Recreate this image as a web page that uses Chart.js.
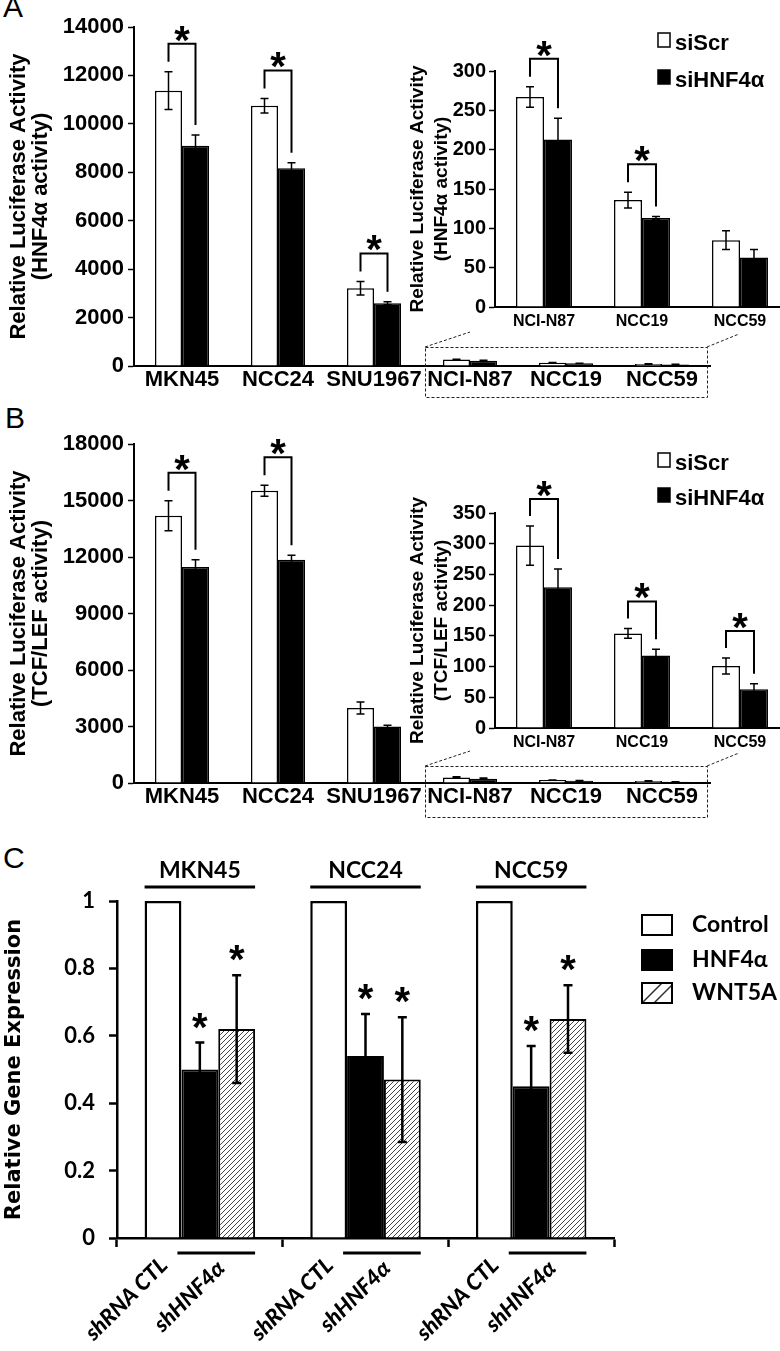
<!DOCTYPE html>
<html><head><meta charset="utf-8">
<script src="https://cdn.jsdelivr.net/npm/chart.js@4.4.0/dist/chart.umd.min.js"></script>
<style>
html,body{margin:0;padding:0;background:#fff;width:780px;height:1351px;overflow:hidden;position:relative;}
canvas{position:absolute;}
.pl{position:absolute;font-family:"Liberation Sans",Arial,sans-serif;font-size:30px;line-height:30px;color:#000;}
</style></head><body>
<div class="pl" style="left:3px;top:-8px">A</div>
<div class="pl" style="left:5px;top:403px">B</div>
<div class="pl" style="left:3px;top:843px">C</div>
<canvas id="aMain" width="780" height="410" style="left:0;top:0;width:780px;height:410px"></canvas>
<canvas id="aIns" width="420" height="340" style="left:380px;top:0;width:420px;height:340px"></canvas>
<canvas id="bMain" width="780" height="430" style="left:0;top:400px;width:780px;height:430px"></canvas>
<canvas id="bIns" width="420" height="360" style="left:380px;top:400px;width:420px;height:360px"></canvas>
<canvas id="cMain" width="780" height="521" style="left:0;top:830px;width:780px;height:521px"></canvas>
<script>
// ---------------- DATA ----------------
const mainCats = ['MKN45', 'NCC24', 'SNU1967', 'NCI-N87', 'NCC19', 'NCC59'];
const seriesNames = ['siScr', 'siHNF4α'];

// Panel A: HNF4α reporter activity
const aScr    = [11370, 10750, 3210, 267, 136, 85];
const aScrErr = [780, 300, 280, 13, 10, 12];
const aSi     = [9100, 8170, 2590, 213, 113, 63];
const aSiErr  = [440, 220, 60, 27, 2, 10];
const aSig    = [true, true, true, true, true, false];
const aTitle  = ['Relative Luciferase Activity', '(HNF4α activity)'];

// Panel B: TCF/LEF reporter activity
const bScr    = [14190, 15520, 3980, 297, 154, 101];
const bScrErr = [800, 290, 320, 32, 8, 13];
const bSi     = [11470, 11860, 3000, 229, 118, 63];
const bSiErr  = [390, 230, 60, 30, 10, 9];
const bSig    = [true, true, false, true, true, true];
const bTitle  = ['Relative Luciferase Activity', '(TCF/LEF activity)'];

// Panel C: relative gene expression
const cGroups   = ['MKN45', 'NCC24', 'NCC59'];
const cSeries   = ['Control', 'HNF4α', 'WNT5A'];
const cControl  = [1, 1, 1];
const cHNF      = [0.50, 0.54, 0.45];
const cHNFErr   = [0.08, 0.125, 0.12];
const cWNT      = [0.62, 0.47, 0.65];
const cWNTErr   = [0.16, 0.185, 0.10];
const cSubLabels = ['shRNA CTL', 'shHNF4α'];
const cTitle    = 'Relative Gene Expression';

// ---------------- HELPERS ----------------
const F  = '"Liberation Sans", Arial, Helvetica, sans-serif';
const FC = 'Lato, "Open Sans", sans-serif';
const FV = '"DejaVu Sans", Verdana, sans-serif';

function star(ctx, x, cy, font) {
  ctx.save();
  ctx.font = font; ctx.fillStyle = '#000';
  ctx.textAlign = 'center'; ctx.textBaseline = 'alphabetic';
  const m = ctx.measureText('*');
  ctx.fillText('*', x, cy + (m.actualBoundingBoxAscent - m.actualBoundingBoxDescent) / 2);
  ctx.restore();
}

function hatchPattern(step) {
  const c = document.createElement('canvas'); c.width = step; c.height = step;
  const x = c.getContext('2d');
  x.fillStyle = '#fff'; x.fillRect(0, 0, step, step);
  x.strokeStyle = '#444'; x.lineWidth = 1;
  x.beginPath();
  x.moveTo(0, step); x.lineTo(step, 0);
  x.moveTo(-1, 1); x.lineTo(1, -1);
  x.moveTo(step - 1, step + 1); x.lineTo(step + 1, step - 1);
  x.stroke();
  return x.createPattern(c, 'repeat');
}

const errorBars = {
  id: 'errorBars',
  afterDatasetsDraw(chart, args, o) {
    const ctx = chart.ctx, y = chart.scales.y;
    ctx.save(); ctx.strokeStyle = '#000'; ctx.lineWidth = o.lw;
    chart.data.datasets.forEach((ds, di) => {
      if (!ds.err) return;
      chart.getDatasetMeta(di).data.forEach((el, i) => {
        const e = ds.err[i]; if (!e) return;
        const v = ds.data[i];
        const yt = y.getPixelForValue(v + e), yb = y.getPixelForValue(v - e);
        ctx.beginPath();
        ctx.moveTo(el.x, yt); ctx.lineTo(el.x, yb);
        ctx.moveTo(el.x - o.cap, yt); ctx.lineTo(el.x + o.cap, yt);
        ctx.moveTo(el.x - o.cap, yb); ctx.lineTo(el.x + o.cap, yb);
        ctx.stroke();
      });
    });
    ctx.restore();
  }
};

const brackets = {
  id: 'brackets',
  afterDatasetsDraw(chart, args, o) {
    if (!o.sig) return;
    const ctx = chart.ctx, y = chart.scales.y, ds = chart.data.datasets;
    ctx.save(); ctx.strokeStyle = '#000'; ctx.lineWidth = o.lw;
    o.sig.forEach((s, i) => {
      if (!s) return;
      const a = chart.getDatasetMeta(0).data[i], b = chart.getDatasetMeta(1).data[i];
      const ta = y.getPixelForValue(ds[0].data[i] + ds[0].err[i]);
      const tb = y.getPixelForValue(ds[1].data[i] + ds[1].err[i]);
      const top = Math.min(ta, tb) - o.rise;
      ctx.beginPath();
      ctx.moveTo(a.x, ta - o.gap); ctx.lineTo(a.x, top); ctx.lineTo(b.x, top); ctx.lineTo(b.x, tb - o.gap);
      ctx.stroke();
      star(ctx, (a.x + b.x) / 2, top - o.starOff, o.starFont);
    });
    ctx.restore();
  }
};

const zoomBox = {
  id: 'zoomBox',
  afterDraw(chart, args, o) {
    if (o.from === undefined) return;
    const x = chart.scales.x, ca = chart.chartArea, ctx = chart.ctx;
    const half = (x.getPixelForValue(1) - x.getPixelForValue(0)) / 2;
    const L = x.getPixelForValue(o.from) - half + 3, R = ca.right - 3;
    const T = ca.bottom - o.up, B = ca.bottom + o.down;
    ctx.save(); ctx.setLineDash([3, 2]); ctx.strokeStyle = '#222'; ctx.lineWidth = 1;
    ctx.strokeRect(L + 0.5, T + 0.5, R - L, B - T);
    ctx.beginPath();
    ctx.moveTo(L, T); ctx.lineTo(L + 45, T - 15);
    ctx.moveTo(R, T); ctx.lineTo(R + 32, T - 13);
    ctx.stroke();
    ctx.restore();
  }
};

const key = {
  id: 'key',
  afterDraw(chart, args, o) {
    if (!o.ys) return;
    const ctx = chart.ctx; ctx.save();
    ctx.font = 'bold 22px ' + F; ctx.textBaseline = 'alphabetic'; ctx.textAlign = 'left';
    chart.data.datasets.forEach((ds, i) => {
      const base = o.ys[i];
      ctx.fillStyle = ds.backgroundColor; ctx.fillRect(o.x, base - 17, 12, 14);
      ctx.strokeStyle = '#000'; ctx.lineWidth = 1.5; ctx.strokeRect(o.x, base - 17, 12, 14);
      ctx.fillStyle = '#000'; ctx.fillText(ds.label, o.x + 17, base);
    });
    ctx.restore();
  }
};

const plain = v => String(v);

function barChart(id, cats, scr, scrErr, si, siErr, cfg) {
  return new Chart(document.getElementById(id), {
    type: 'bar',
    data: {
      labels: cats,
      datasets: [
        { label: seriesNames[0], data: scr, err: scrErr, backgroundColor: '#fff', borderColor: '#000',
          borderWidth: 1.5, categoryPercentage: cfg.catPct, barPercentage: 1 },
        { label: seriesNames[1], data: si, err: siErr, backgroundColor: '#000', borderColor: '#000',
          borderWidth: 1.5, categoryPercentage: cfg.catPct, barPercentage: 1 }
      ]
    },
    options: {
      responsive: false, animation: false, devicePixelRatio: 1,
      layout: { padding: { left: 0, top: cfg.top, right: cfg.right, bottom: 0 } },
      plugins: {
        legend: { display: false }, tooltip: { enabled: false },
        errorBars: { lw: 1.5, cap: 4 },
        brackets: { sig: cfg.sig, lw: 2, gap: 10, rise: cfg.rise, starOff: 10, starFont: 'bold 40px ' + F },
        zoomBox: cfg.box || {},
        key: cfg.key || {}
      },
      scales: {
        x: {
          grid: { display: true, drawOnChartArea: false, drawTicks: false, color: 'transparent' },
          border: { display: true, color: '#000', width: 2 },
          ticks: { color: '#000', font: { family: F, size: cfg.xFont, weight: 'bold' }, padding: cfg.xPad,
                   maxRotation: 0, minRotation: 0, autoSkip: false },
          afterFit: s => { s.height = cfg.xH; }
        },
        y: {
          min: 0, max: cfg.max,
          ticks: { stepSize: cfg.step, color: '#000', font: { family: F, size: cfg.yFont, weight: 'bold' }, padding: cfg.yPad,
                   callback: plain },
          grid: { drawOnChartArea: false, drawTicks: true, tickLength: 6, tickColor: '#000', tickWidth: 1.5, color: '#000' },
          border: { display: true, color: '#000', width: 2 },
          title: { display: true, text: cfg.title, color: '#000',
                   font: { family: F, size: cfg.tFont, weight: 'bold', lineHeight: cfg.tLH },
                   padding: { top: cfg.tPad, bottom: 0 } },
          afterFit: s => { s.width = cfg.yW; }
        }
      }
    },
    plugins: [errorBars, brackets, zoomBox, key]
  });
}

// ---------------- PANEL A ----------------
barChart('aMain', mainCats, aScr, aScrErr, aSi, aSiErr, {
  catPct: 0.5625, top: 27, right: 70, xH: 44, yW: 134, max: 14000, step: 2000,
  xFont: 22, xPad: 1, yFont: 22, yPad: 4, title: aTitle, tFont: 22, tLH: 1.0, tPad: 8,
  sig: aSig.map((s, i) => i < 3 && s), rise: 28, box: { from: 3, up: 19, down: 31 }
});
barChart('aIns', mainCats.slice(3), aScr.slice(3), aScrErr.slice(3), aSi.slice(3), aSiErr.slice(3), {
  catPct: 0.571, top: 71, right: 11, xH: 33, yW: 115, max: 300, step: 50,
  xFont: 16, xPad: 5, yFont: 20, yPad: 3, title: aTitle, tFont: 19, tLH: 1.26, tPad: 26,
  sig: aSig.slice(3), rise: 28, key: { x: 278, ys: [50, 87] }
});

// ---------------- PANEL B ----------------
barChart('bMain', mainCats, bScr, bScrErr, bSi, bSiErr, {
  catPct: 0.5625, top: 44, right: 70, xH: 47, yW: 134, max: 18000, step: 3000,
  xFont: 22, xPad: 1, yFont: 22, yPad: 4, title: bTitle, tFont: 22, tLH: 1.0, tPad: 8,
  sig: bSig.map((s, i) => i < 3 && s), rise: 28, box: { from: 3, up: 17, down: 34 }
});
barChart('bIns', mainCats.slice(3), bScr.slice(3), bScrErr.slice(3), bSi.slice(3), bSiErr.slice(3), {
  catPct: 0.571, top: 113, right: 11, xH: 32, yW: 115, max: 350, step: 50,
  xFont: 16, xPad: 5, yFont: 20, yPad: 3, title: bTitle, tFont: 19, tLH: 1.26, tPad: 26,
  sig: bSig.slice(3), rise: 27, key: { x: 278, ys: [70, 105] }
});

// ---------------- PANEL C ----------------
const hatch = hatchPattern(5);
const cDecor = {
  id: 'cDecor',
  afterDraw(chart) {
    const ctx = chart.ctx, ca = chart.chartArea, ds = chart.data.datasets, y = chart.scales.y;
    const m0 = chart.getDatasetMeta(0).data, m1 = chart.getDatasetMeta(1).data, m2 = chart.getDatasetMeta(2).data;
    ctx.save();
    ctx.strokeStyle = '#000'; ctx.fillStyle = '#000';
    chart.data.labels.forEach((lab, i) => {
      const c = m0[i], h = m1[i], w = m2[i];
      const left = c.x - c.width / 2, right = w.x + w.width / 2;
      ctx.font = 'bold 23px ' + FC; ctx.textAlign = 'center'; ctx.textBaseline = 'middle';
      ctx.fillText(lab, (left + right) / 2, ca.top - 30);
      ctx.lineWidth = 3;
      ctx.beginPath(); ctx.moveTo(left, ca.top - 14); ctx.lineTo(right, ca.top - 14); ctx.stroke();
      [1, 2].forEach(di => {
        const el = chart.getDatasetMeta(di).data[i];
        const v = ds[di].data[i] + ds[di].err[i];
        star(ctx, el.x, y.getPixelForValue(v) - 22, 'bold 40px ' + F);
      });
      ctx.lineWidth = 3;
      ctx.beginPath(); ctx.moveTo(h.x - h.width / 2 - 4, ca.bottom + 15); ctx.lineTo(w.x + w.width / 2, ca.bottom + 15); ctx.stroke();
      const rot = (txt, x, yy) => {
        ctx.save(); ctx.translate(x, yy); ctx.rotate(-Math.PI / 4);
        ctx.font = 'italic 900 22px ' + FC; ctx.textAlign = 'right'; ctx.textBaseline = 'top';
        ctx.fillText(txt, 0, 0); ctx.restore();
      };
      rot(cSubLabels[0], c.x - 7, ca.bottom + 16);
      rot(cSubLabels[1], (h.x + w.x) / 2 - 5, ca.bottom + 19);
    });
    // legend
    const lx = 642, lys = [85, 120, 153];
    ctx.font = 'bold 23px ' + FC; ctx.textAlign = 'left'; ctx.textBaseline = 'middle';
    ds.forEach((d, i) => {
      const yy = lys[i];
      ctx.lineWidth = 2;
      if (i === 2) {
        ctx.fillStyle = '#fff'; ctx.fillRect(lx, yy, 30, 20);
        ctx.save(); ctx.beginPath(); ctx.rect(lx, yy, 30, 20); ctx.clip();
        ctx.lineWidth = 1.5; ctx.strokeStyle = '#333';
        ctx.beginPath(); ctx.moveTo(lx, yy + 20); ctx.lineTo(lx + 20, yy); ctx.moveTo(lx + 12, yy + 20); ctx.lineTo(lx + 32, yy); ctx.stroke();
        ctx.restore();
      } else {
        ctx.fillStyle = d.backgroundColor; ctx.fillRect(lx, yy, 30, 20);
      }
      ctx.strokeStyle = '#000'; ctx.lineWidth = 2; ctx.strokeRect(lx, yy, 30, 20);
      ctx.fillStyle = '#000'; ctx.fillText(d.label, lx + 50, yy + 10);
    });
    ctx.restore();
  }
};

new Chart(document.getElementById('cMain'), {
  type: 'bar',
  data: {
    labels: cGroups,
    datasets: [
      { label: cSeries[0], data: cControl, backgroundColor: '#fff', borderColor: '#000', borderWidth: 2.5,
        categoryPercentage: 0.667, barPercentage: 1 },
      { label: cSeries[1], data: cHNF, err: cHNFErr, backgroundColor: '#000', borderColor: '#000', borderWidth: 2,
        categoryPercentage: 0.667, barPercentage: 1 },
      { label: cSeries[2], data: cWNT, err: cWNTErr, backgroundColor: hatch, borderColor: '#000', borderWidth: 2,
        categoryPercentage: 0.667, barPercentage: 1 }
    ]
  },
  options: {
    responsive: false, animation: false, devicePixelRatio: 1,
    layout: { padding: { left: 0, top: 71, right: 166, bottom: 0 } },
    plugins: { legend: { display: false }, tooltip: { enabled: false }, errorBars: { lw: 2.5, cap: 4.5 } },
    scales: {
      x: {
        ticks: { display: false },
        grid: { display: true, offset: true, drawOnChartArea: false, drawTicks: true, tickLength: 9, tickColor: '#000', tickWidth: 2.5, color: '#000' },
        border: { display: true, color: '#000', width: 2.5 },
        afterFit: s => { s.height = 113; }
      },
      y: {
        min: 0, max: 1,
        ticks: { stepSize: 0.2, color: '#000', font: { family: FC, size: 22, weight: 'bold' }, padding: 14,
                 callback: v => String(+v.toFixed(1)) },
        grid: { drawOnChartArea: false, drawTicks: true, tickLength: 8, tickColor: '#000', tickWidth: 2.5, color: '#000' },
        border: { display: true, color: '#000', width: 2.5 },
        title: { display: true, text: cTitle, color: '#000', font: { family: FV, size: 21, weight: 'bold', lineHeight: 1.2 },
                 padding: { top: 2, bottom: 0 } },
        afterFit: s => { s.width = 117; }
      }
    }
  },
  plugins: [errorBars, cDecor]
});
</script>
</body></html>
